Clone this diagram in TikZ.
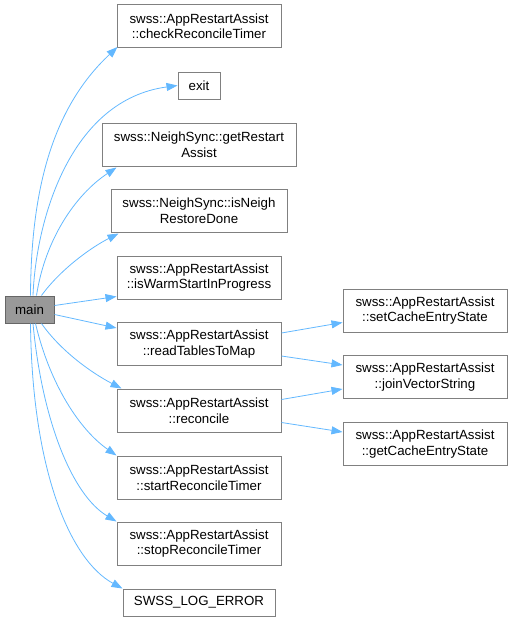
\documentclass[tikz,border=0pt]{standalone}
\usepackage{fontspec}
\setmainfont{Liberation Sans}
\usetikzlibrary{arrows.meta}
\definecolor{edgeblue}{HTML}{63B8FF}
\definecolor{boxline}{HTML}{808080}
\definecolor{mainfill}{HTML}{999999}
\definecolor{mainline}{HTML}{666666}
\tikzset{
  fn/.style={draw=boxline, line width=1pt, fill=white, rectangle, inner sep=0pt,
    minimum width=164pt, minimum height=43pt, align=center,
    font=\fontsize{13.3}{15.5}\selectfont},
  mainbox/.style={fn, fill=mainfill, draw=mainline, minimum width=49pt, minimum height=27pt},
  call/.style={draw=edgeblue, line width=0.8pt, -{Triangle[length=11pt,width=8pt]}, fill=none},
}
\begin{document}
\begin{tikzpicture}[x=1pt,y=-1pt]
\useasboundingbox (0,0) rectangle (513,621);
\node[mainbox] (main) at (29.5,309.5) {main};
\node[fn] (check) at (199,26) {swss::AppRestartAssist\\::checkReconcileTimer};
\node[fn, minimum width=42pt, minimum height=27pt] (exit) at (199,85.5) {exit};
\node[fn, minimum width=194pt] (getRestart) at (199,144.5) {swss::NeighSync::getRestart\\Assist};
\node[fn, minimum width=176pt] (isNeigh) at (199,210.5) {swss::NeighSync::isNeigh\\RestoreDone};
\node[fn] (isWarm) at (199,277.5) {swss::AppRestartAssist\\::isWarmStartInProgress};
\node[fn] (readTables) at (199,344) {swss::AppRestartAssist\\::readTablesToMap};
\node[fn] (reconcile) at (199,410.5) {swss::AppRestartAssist\\::reconcile};
\node[fn] (startRec) at (199,477.5) {swss::AppRestartAssist\\::startReconcileTimer};
\node[fn] (stopRec) at (199,543.5) {swss::AppRestartAssist\\::stopReconcileTimer};
\node[fn, minimum width=152pt, minimum height=27pt] (swsslog) at (199,602.5) {SWSS\_LOG\_ERROR};
\node[fn] (setCache) at (425,310.5) {swss::AppRestartAssist\\::setCacheEntryState};
\node[fn] (join) at (425,377) {swss::AppRestartAssist\\::joinVectorString};
\node[fn] (getCache) at (425,444) {swss::AppRestartAssist\\::getCacheEntryState};

\draw[call] ([xshift=1pt]main.north) .. controls (31,195) and (50,110) .. ([xshift=1pt,yshift=1pt]check.south west);
\draw[call] ([xshift=3.5pt]main.north) .. controls (36,220) and (70,100) .. (exit.west);
\draw[call] ([xshift=7pt]main.north) .. controls (45,240) and (75,195) .. ([xshift=15pt,yshift=-1pt]getRestart.south west);
\draw[call] ([xshift=12pt]main.north) .. controls (60,270) and (90,248) .. ([xshift=8pt,yshift=-1pt]isNeigh.south west);
\draw[call] ([yshift=4pt]main.east) -- ([yshift=3pt]isWarm.south west);
\draw[call] ([yshift=-5pt]main.east) -- ([yshift=-6pt]readTables.north west);
\draw[call] ([xshift=12pt]main.south) .. controls (60,350) and (90,372) .. ([xshift=5pt]reconcile.north west);
\draw[call] ([xshift=6pt]main.south) .. controls (50,385) and (80,430) .. (startRec.north west);
\draw[call] ([xshift=3.5pt]main.south) .. controls (42,420) and (72,495) .. (stopRec.north west);
\draw[call] ([xshift=1pt]main.south) .. controls (32,470) and (70,560) .. (swsslog.north west);

\draw[call] ([yshift=11pt]readTables.east) -- ([yshift=-12pt]setCache.west);
\draw[call] ([yshift=-12pt]readTables.east) -- ([yshift=12pt]join.west);
\draw[call] ([yshift=11pt]reconcile.east) -- ([yshift=-12pt]join.west);
\draw[call] ([yshift=-12pt]reconcile.east) -- ([yshift=12pt]getCache.west);
\end{tikzpicture}
\end{document}
